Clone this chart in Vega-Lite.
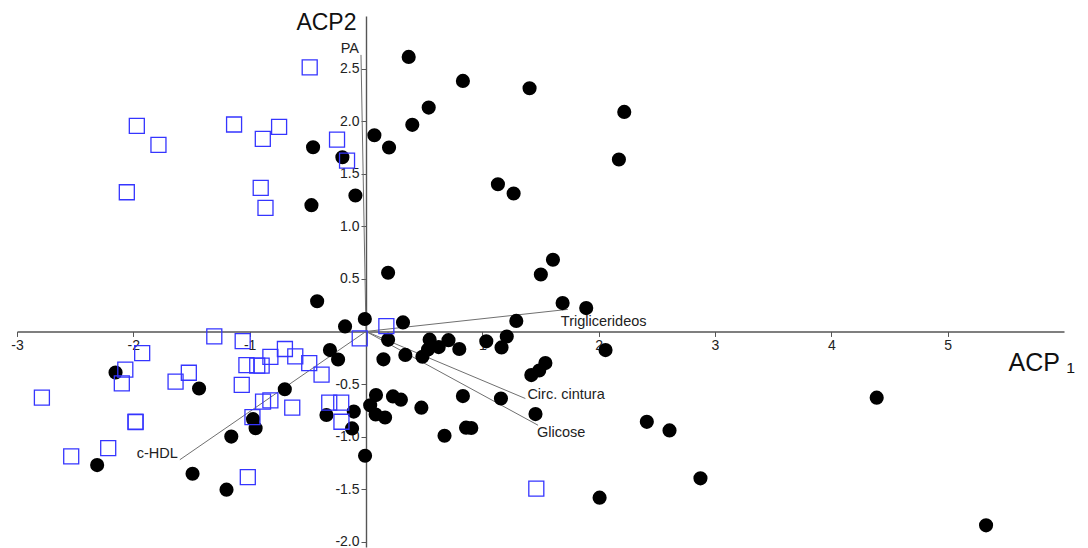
{
  "$schema": "https://vega.github.io/schema/vega-lite/v6.json",
  "width": 1047,
  "height": 531,
  "autosize": {"type": "none"},
  "padding": {"left": 17, "top": 16, "right": 24, "bottom": 1},
  "background": "white",
  "config": {
    "view": {"stroke": null},
    "font": "Liberation Sans",
    "locale": {"number": {"decimal": ".", "thousands": ",", "grouping": [3], "currency": ["$", ""], "minus": "-"}}
  },
  "datasets": {
    "obs": [
      {"x": 0.367, "y": 2.611, "g": "A"}, {"x": 0.833, "y": 2.383, "g": "A"}, {"x": 1.406, "y": 2.313, "g": "A"},
      {"x": 0.539, "y": 2.129, "g": "A"}, {"x": 0.398, "y": 1.965, "g": "A"}, {"x": 2.22, "y": 2.088, "g": "A"},
      {"x": 2.174, "y": 1.635, "g": "A"}, {"x": 1.134, "y": 1.4, "g": "A"}, {"x": 1.269, "y": 1.312, "g": "A"},
      {"x": 1.607, "y": 0.682, "g": "A"}, {"x": 1.503, "y": 0.542, "g": "A"}, {"x": -0.455, "y": 1.752, "g": "A"},
      {"x": -0.203, "y": 1.657, "g": "A"}, {"x": -0.469, "y": 1.201, "g": "A"}, {"x": -0.091, "y": 1.293, "g": "A"},
      {"x": 0.072, "y": 1.866, "g": "A"}, {"x": 0.198, "y": 1.749, "g": "A"}, {"x": 0.19, "y": 0.558, "g": "A"},
      {"x": -0.42, "y": 0.287, "g": "A"}, {"x": -0.01, "y": 0.118, "g": "A"}, {"x": -0.18, "y": 0.048, "g": "A"},
      {"x": 0.318, "y": 0.086, "g": "A"}, {"x": 1.69, "y": 0.27, "g": "A"}, {"x": 1.893, "y": 0.222, "g": "A"},
      {"x": 1.292, "y": 0.1, "g": "A"}, {"x": 0.19, "y": -0.08, "g": "A"}, {"x": 0.547, "y": -0.078, "g": "A"},
      {"x": 0.709, "y": -0.083, "g": "A"}, {"x": 0.625, "y": -0.149, "g": "A"}, {"x": 0.533, "y": -0.172, "g": "A"},
      {"x": 0.802, "y": -0.167, "g": "A"}, {"x": 1.034, "y": -0.094, "g": "A"}, {"x": 1.21, "y": -0.048, "g": "A"},
      {"x": 1.165, "y": -0.152, "g": "A"}, {"x": 2.059, "y": -0.177, "g": "A"}, {"x": 0.15, "y": -0.265, "g": "A"},
      {"x": 0.338, "y": -0.223, "g": "A"}, {"x": 0.485, "y": -0.241, "g": "A"}, {"x": 1.542, "y": -0.301, "g": "A"},
      {"x": 1.489, "y": -0.371, "g": "A"}, {"x": 1.421, "y": -0.415, "g": "A"}, {"x": -0.31, "y": -0.177, "g": "A"},
      {"x": -0.24, "y": -0.267, "g": "A"}, {"x": 0.086, "y": -0.605, "g": "A"}, {"x": 0.232, "y": -0.618, "g": "A"},
      {"x": 0.3, "y": -0.649, "g": "A"}, {"x": 0.036, "y": -0.703, "g": "A"}, {"x": 0.083, "y": -0.79, "g": "A"},
      {"x": 0.164, "y": -0.818, "g": "A"}, {"x": 0.476, "y": -0.725, "g": "A"}, {"x": 0.833, "y": -0.615, "g": "A"},
      {"x": 1.16, "y": -0.638, "g": "A"}, {"x": 1.457, "y": -0.786, "g": "A"}, {"x": 0.675, "y": -0.992, "g": "A"},
      {"x": 0.86, "y": -0.915, "g": "A"}, {"x": 0.905, "y": -0.918, "g": "A"}, {"x": -0.34, "y": -0.795, "g": "A"},
      {"x": -0.105, "y": -0.762, "g": "A"}, {"x": -0.12, "y": -0.922, "g": "A"}, {"x": -0.008, "y": -1.182, "g": "A"},
      {"x": 2.414, "y": -0.86, "g": "A"}, {"x": 2.609, "y": -0.941, "g": "A"}, {"x": 2.008, "y": -1.581, "g": "A"},
      {"x": 4.39, "y": -0.63, "g": "A"}, {"x": 2.875, "y": -1.397, "g": "A"}, {"x": 5.33, "y": -1.844, "g": "A"},
      {"x": -2.153, "y": -0.39, "g": "A"}, {"x": -1.435, "y": -0.543, "g": "A"}, {"x": -0.698, "y": -0.55, "g": "A"},
      {"x": -1.158, "y": -1.0, "g": "A"}, {"x": -0.971, "y": -0.834, "g": "A"}, {"x": -0.949, "y": -0.92, "g": "A"},
      {"x": -2.311, "y": -1.271, "g": "A"}, {"x": -1.491, "y": -1.353, "g": "A"}, {"x": -1.199, "y": -1.505, "g": "A"},
      {"x": -0.484, "y": 2.512, "g": "B"}, {"x": -1.97, "y": 1.955, "g": "B"}, {"x": -1.784, "y": 1.775, "g": "B"},
      {"x": -1.134, "y": 1.968, "g": "B"}, {"x": -0.747, "y": 1.946, "g": "B"}, {"x": -0.887, "y": 1.832, "g": "B"},
      {"x": -0.249, "y": 1.825, "g": "B"}, {"x": -0.163, "y": 1.625, "g": "B"}, {"x": -2.056, "y": 1.324, "g": "B"},
      {"x": -0.905, "y": 1.366, "g": "B"}, {"x": -0.864, "y": 1.176, "g": "B"}, {"x": -1.304, "y": -0.046, "g": "B"},
      {"x": -1.06, "y": -0.092, "g": "B"}, {"x": -0.054, "y": -0.065, "g": "B"}, {"x": 0.175, "y": 0.051, "g": "B"},
      {"x": -1.924, "y": -0.206, "g": "B"}, {"x": -2.069, "y": -0.364, "g": "B"}, {"x": -2.099, "y": -0.494, "g": "B"},
      {"x": -2.786, "y": -0.63, "g": "B"}, {"x": -1.523, "y": -0.393, "g": "B"}, {"x": -1.637, "y": -0.478, "g": "B"},
      {"x": -1.068, "y": -0.509, "g": "B"}, {"x": -1.028, "y": -0.32, "g": "B"}, {"x": -0.935, "y": -0.326, "g": "B"},
      {"x": -0.897, "y": -0.326, "g": "B"}, {"x": -0.822, "y": -0.241, "g": "B"}, {"x": -0.697, "y": -0.167, "g": "B"},
      {"x": -0.608, "y": -0.238, "g": "B"}, {"x": -0.488, "y": -0.302, "g": "B"}, {"x": -0.382, "y": -0.41, "g": "B"},
      {"x": -0.885, "y": -0.668, "g": "B"}, {"x": -0.822, "y": -0.656, "g": "B"}, {"x": -0.634, "y": -0.725, "g": "B"},
      {"x": -0.976, "y": -0.815, "g": "B"}, {"x": -0.316, "y": -0.677, "g": "B"}, {"x": -0.213, "y": -0.677, "g": "B"},
      {"x": -0.211, "y": -0.859, "g": "B"}, {"x": -1.981, "y": -0.862, "g": "B"}, {"x": -1.981, "y": -0.857, "g": "B"},
      {"x": -2.216, "y": -1.109, "g": "B"}, {"x": -2.534, "y": -1.188, "g": "B"}, {"x": -1.016, "y": -1.385, "g": "B"},
      {"x": 1.464, "y": -1.495, "g": "B"}
    ],
    "loadings": [
      {"var": "PA", "x": -0.043, "y": 2.63, "side": "left"},
      {"var": "Triglicerideos", "x": 1.735, "y": 0.21, "side": "tri"},
      {"var": "Circ. cintura", "x": 1.37, "y": -0.638, "side": "circ"},
      {"var": "Glicose", "x": 1.479, "y": -0.892, "side": "gli"},
      {"var": "c-HDL", "x": -1.6, "y": -1.22, "side": "left"}
    ]
  },
  "layer": [
    {
      "data": {"name": "loadings"},
      "mark": {"type": "rule", "color": "#707070", "strokeWidth": 1},
      "encoding": {
        "x": {
          "field": "x", "type": "quantitative",
          "scale": {"domain": [-3, 6], "nice": false, "zero": false},
          "axis": {
            "title": "ACP ₁", "offset": -215.56,
            "values": [-3, -2, -1, 1, 2, 3, 4, 5], "format": "d",
            "grid": false, "domainColor": "#555555", "domainWidth": 1.4,
            "tickColor": "#555555", "tickSize": 5, "tickWidth": 1,
            "labelFontSize": 14, "labelColor": "#222222", "labelPadding": 2,
            "labelFlush": false, "labelOverlap": false, "labelFont": "Liberation Sans",
            "titleFontSize": 25, "titleFontWeight": "normal", "titleColor": "#111111",
            "titleFont": "Liberation Sans", "titleAngle": 0, "titleAlign": "left",
            "titleBaseline": "alphabetic", "titleX": 991, "titleY": 39.3
          }
        },
        "y": {
          "field": "y", "type": "quantitative",
          "scale": {"domain": [-2.05, 3], "nice": false, "zero": false},
          "axis": {
            "title": "ACP2", "offset": -349,
            "values": [-2, -1.5, -1, -0.5, 0.5, 1, 1.5, 2, 2.5], "format": ".1f",
            "grid": false, "domainColor": "#555555", "domainWidth": 1.4,
            "tickColor": "#555555", "tickSize": 5, "tickWidth": 1,
            "labelFontSize": 14, "labelColor": "#222222", "labelPadding": 2,
            "labelFlush": false, "labelOverlap": false, "labelFont": "Liberation Sans",
            "titleFontSize": 23, "titleFontWeight": "normal", "titleColor": "#111111",
            "titleFont": "Liberation Sans", "titleAngle": 0, "titleAlign": "right",
            "titleBaseline": "alphabetic", "titleX": -10, "titleY": 13.3
          }
        },
        "x2": {"datum": 0},
        "y2": {"datum": 0}
      }
    },
    {
      "data": {"name": "obs"},
      "transform": [{"filter": "datum.g === 'A'"}],
      "mark": {"type": "point", "shape": "circle", "filled": true, "color": "#000000", "opacity": 1, "size": 200},
      "encoding": {
        "x": {"field": "x", "type": "quantitative"},
        "y": {"field": "y", "type": "quantitative"}
      }
    },
    {
      "data": {"name": "obs"},
      "transform": [{"filter": "datum.g === 'B'"}],
      "mark": {"type": "point", "shape": "square", "filled": false, "stroke": "#3535ff", "strokeWidth": 1.3, "opacity": 1, "size": 225},
      "encoding": {
        "x": {"field": "x", "type": "quantitative"},
        "y": {"field": "y", "type": "quantitative"}
      }
    },
    {
      "data": {"name": "loadings"},
      "transform": [{"filter": "datum.side === 'left'"}],
      "mark": {"type": "text", "align": "right", "baseline": "middle", "dx": -2, "dy": -6, "fontSize": 14.5, "color": "#222222", "font": "Liberation Sans"},
      "encoding": {
        "x": {"field": "x", "type": "quantitative"},
        "y": {"field": "y", "type": "quantitative"},
        "text": {"field": "var"}
      }
    },
    {
      "data": {"name": "loadings"},
      "transform": [{"filter": "datum.side === 'tri'"}],
      "mark": {"type": "text", "align": "left", "baseline": "middle", "dx": -7, "dy": 13, "fontSize": 14.5, "color": "#222222", "font": "Liberation Sans"},
      "encoding": {
        "x": {"field": "x", "type": "quantitative"},
        "y": {"field": "y", "type": "quantitative"},
        "text": {"field": "var"}
      }
    },
    {
      "data": {"name": "loadings"},
      "transform": [{"filter": "datum.side === 'circ'"}],
      "mark": {"type": "text", "align": "left", "baseline": "middle", "dx": 2, "dy": -4, "fontSize": 14.5, "color": "#222222", "font": "Liberation Sans"},
      "encoding": {
        "x": {"field": "x", "type": "quantitative"},
        "y": {"field": "y", "type": "quantitative"},
        "text": {"field": "var"}
      }
    },
    {
      "data": {"name": "loadings"},
      "transform": [{"filter": "datum.side === 'gli'"}],
      "mark": {"type": "text", "align": "left", "baseline": "middle", "dx": -1, "dy": 8, "fontSize": 14.5, "color": "#222222", "font": "Liberation Sans"},
      "encoding": {
        "x": {"field": "x", "type": "quantitative"},
        "y": {"field": "y", "type": "quantitative"},
        "text": {"field": "var"}
      }
    }
  ]
}
